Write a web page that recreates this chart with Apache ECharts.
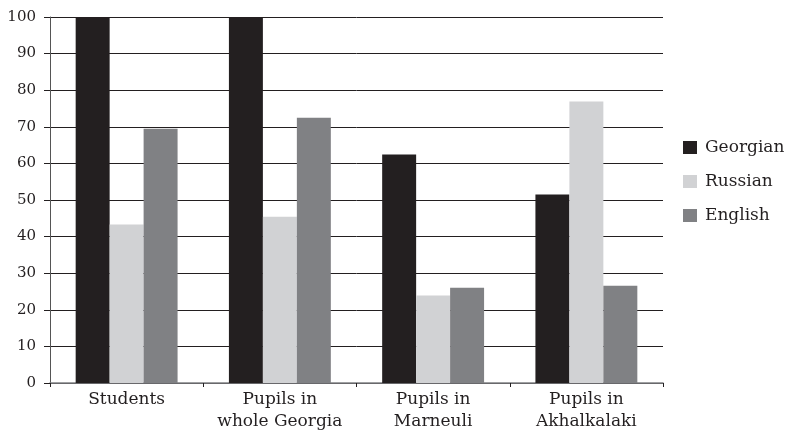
<!DOCTYPE html>
<html><head><meta charset="utf-8">
<script src="https://cdn.jsdelivr.net/npm/echarts@6/dist/echarts.min.js"></script>
<style>html,body{margin:0;padding:0;background:#fff}#c{width:791px;height:433px}</style>
</head><body><div id="c"></div>
<script>
const categories = ['Students', 'Pupils in\nwhole Georgia', 'Pupils in\nMarneuli', 'Pupils in\nAkhalkalaki'];
const georgian = [100, 100, 62.4, 51.5];
const russian = [43.3, 45.4, 23.9, 76.9];
const english = [69.5, 72.5, 26.0, 26.6];
const yTicks = [0, 10, 20, 30, 40, 50, 60, 70, 80, 90, 100];

const font = 'DejaVu Serif, Liberation Serif, serif';
const chart = echarts.init(document.getElementById('c'));
chart.setOption({
  animation: false,
  grid: {left: 50, right: 128, top: 17, bottom: 50, containLabel: false},
  legend: {
    orient: 'vertical', left: 683, top: 139, padding: 0,
    itemWidth: 14, itemHeight: 13, itemGap: 17,
    icon: 'rect',
    textStyle: {fontFamily: font, fontSize: 17, color: '#231f20', padding: [0, 0, 0, 3]},
    data: ['Georgian', 'Russian', 'English']
  },
  xAxis: {
    type: 'category', data: categories,
    axisLine: {show: true, lineStyle: {color: '#808184', width: 1.5}},
    axisTick: {show: true, alignWithLabel: false, length: 4, lineStyle: {color: '#231f20'}},
    axisLabel: {interval: 0, hideOverlap: false, fontFamily: font, fontSize: 17, color: '#231f20', lineHeight: 22, margin: 6}
  },
  yAxis: {
    type: 'value', min: 0, max: 100, interval: 10,
    axisLine: {show: true, lineStyle: {color: '#555', width: 1}},
    axisTick: {show: true, length: 6, lineStyle: {color: '#231f20'}},
    splitLine: {show: true, lineStyle: {color: '#231f20', width: 1}},
    axisLabel: {fontFamily: font, fontSize: 15, color: '#231f20', margin: 14,
      formatter: v => yTicks.includes(v) ? String(v) : ''}
  },
  series: [
    {name: 'Georgian', type: 'bar', data: georgian, itemStyle: {color: '#231f20'}, barGap: '0%', barCategoryGap: '33.5%'},
    {name: 'Russian', type: 'bar', data: russian, itemStyle: {color: '#d1d2d4'}, barGap: '0%', barCategoryGap: '33.5%'},
    {name: 'English', type: 'bar', data: english, itemStyle: {color: '#808184'}, barGap: '0%', barCategoryGap: '33.5%'}
  ]
});
</script></body></html>
